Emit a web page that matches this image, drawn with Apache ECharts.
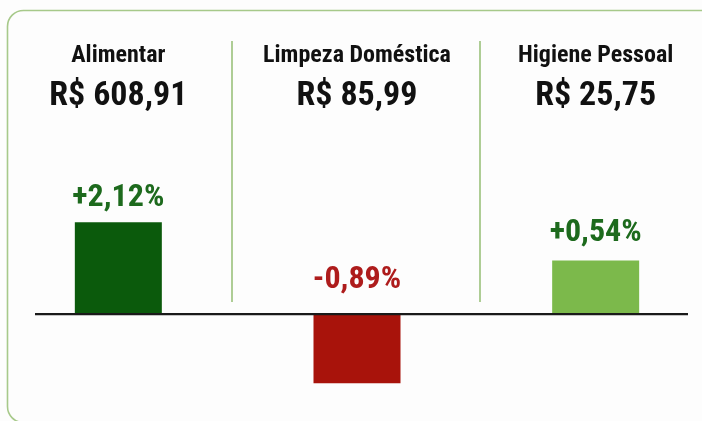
<!DOCTYPE html>
<html>
<head>
<meta charset="utf-8">
<script src="https://cdn.jsdelivr.net/npm/echarts@6/dist/echarts.min.js"></script>
<style>
  html, body { margin: 0; padding: 0; background: #fdfdfd; }
  #chart { width: 702px; height: 421px; }
</style>
</head>
<body>
<div id="chart"></div>
<script>
const categories = ['Alimentar', 'Limpeza Doméstica', 'Higiene Pessoal']
const totals = ['R$ 608,91', 'R$ 85,99', 'R$ 25,75']
// variação exibida no rótulo
const changes = [2.12, -0.89, 0.54]
// altura visual das barras (lida da imagem, não proporcional ao rótulo)
const barLevels = [2.12, -1.59, 1.24]
const barColors = ['#0b5a0c', '#a8130b', '#7cb94b']
const labelColors = ['#1d6a1d', '#ae1c1c', '#1d6a1d']
const labelGaps = [8, 18, 11]

const FONT = "'Roboto Condensed', 'Liberation Sans Narrow', 'DejaVu Sans Condensed', 'Arial Narrow', Roboto, sans-serif"

function fmt(v) {
  return (v > 0 ? '+' : '') + v.toFixed(2).replace('.', ',') + '%'
}

const myChart = echarts.init(document.getElementById('chart'))
myChart.setOption({
  backgroundColor: '#fdfdfd',
  animation: false,
  grid: { left: -1, width: 716, top: 184, height: 217, outerBoundsMode: 'none', containLabel: false },
  xAxis: {
    type: 'category',
    position: 'top',
    data: categories,
    axisLine: { show: false },
    axisTick: { show: false },
    axisLabel: {
      margin: 68,
      formatter: function (name, i) {
        return '{n|' + name + '}\n{v|' + totals[i] + '}'
      },
      rich: {
        n: { fontFamily: FONT, fontWeight: 'bold', fontSize: 24, color: '#111111', lineHeight: 40 },
        v: { fontFamily: FONT, fontWeight: 'bold', fontSize: 34, color: '#111111', lineHeight: 40 }
      }
    }
  },
  yAxis: {
    type: 'value',
    min: -2,
    max: 3,
    show: false,
    splitLine: { show: false }
  },
  series: [{
    type: 'bar',
    barWidth: 87,
    data: barLevels.map((v, i) => ({
      value: v,
      itemStyle: { color: barColors[i] },
      label: {
        show: true,
        position: 'top',
        distance: labelGaps[i],
        formatter: fmt(changes[i]),
        fontFamily: FONT,
        fontWeight: 'bold',
        fontSize: 32,
        color: labelColors[i]
      }
    }))
  }]
})

const zeroY = myChart.convertToPixel({ yAxisIndex: 0 }, 0)
myChart.setOption({
  graphic: [
    {
      type: 'rect',
      shape: { x: 7.5, y: 10.5, width: 712, height: 412, r: 16 },
      style: { fill: null, stroke: '#a7c98a', lineWidth: 1.6 },
      z: -1
    },
    {
      type: 'line',
      shape: { x1: 232, y1: 41, x2: 232, y2: 302 },
      style: { stroke: '#8cb868', lineWidth: 1.4 }
    },
    {
      type: 'line',
      shape: { x1: 480, y1: 41, x2: 480, y2: 302 },
      style: { stroke: '#8cb868', lineWidth: 1.4 }
    },
    {
      type: 'line',
      shape: { x1: 35, y1: zeroY, x2: 688, y2: zeroY },
      style: { stroke: '#1a1a1a', lineWidth: 2.2 },
      z: 10
    }
  ]
})
</script>
</body>
</html>
